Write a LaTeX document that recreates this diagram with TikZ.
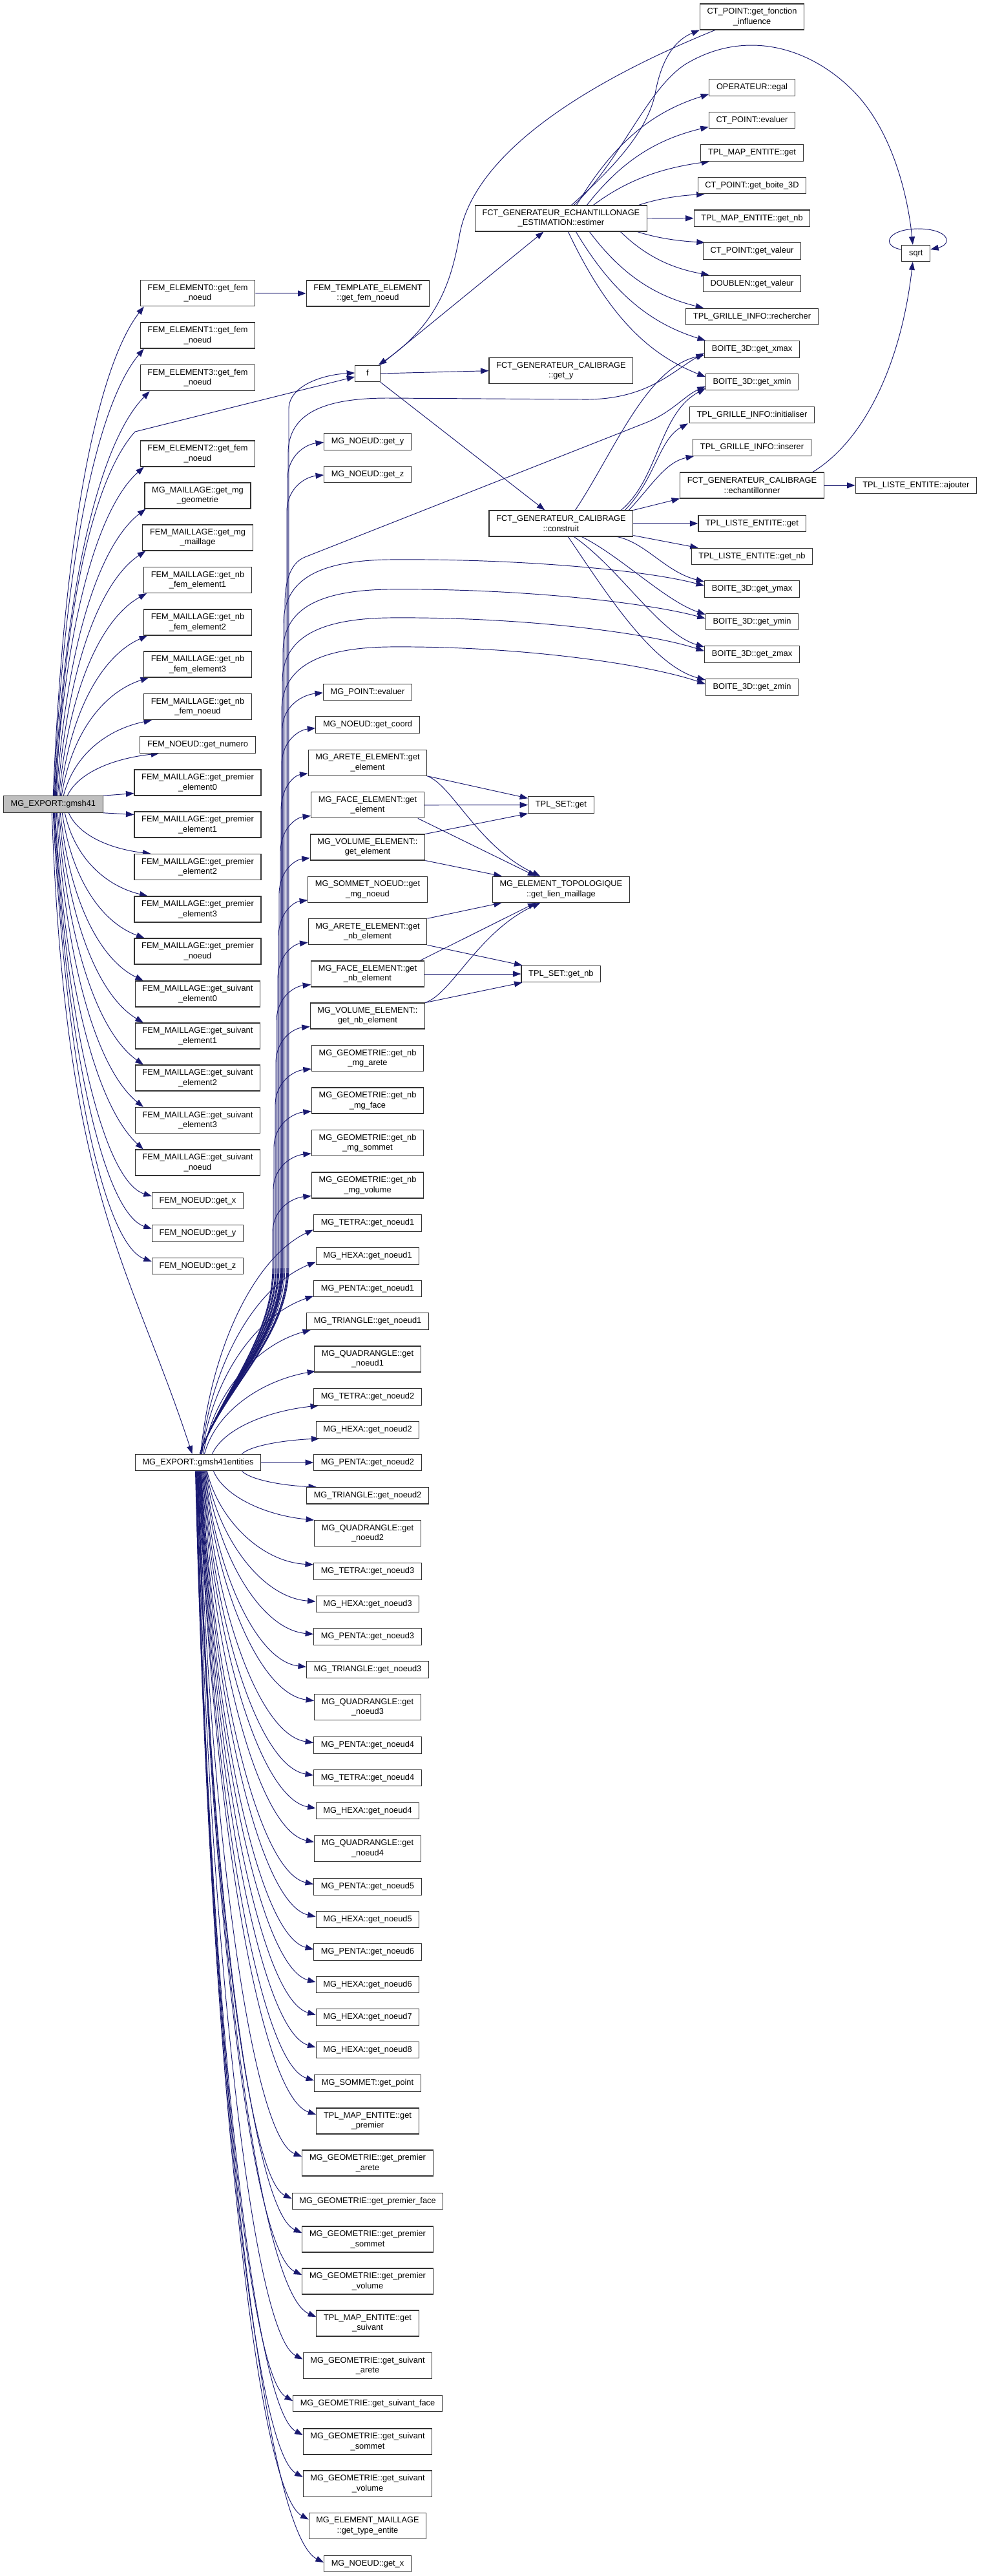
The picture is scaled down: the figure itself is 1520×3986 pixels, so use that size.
\documentclass[tikz,border=0pt]{standalone}
\usepackage{fontspec}
\setmainfont{Liberation Sans}
\usetikzlibrary{arrows.meta,calc}
\definecolor{navyc}{RGB}{25,25,112}
\pgfdeclarelayer{bg}
\pgfsetlayers{bg,main}
\newcommand\fs{\fontsize{12.8}{15.4}\selectfont}
\newcommand\mycub[6]{\draw[edge] let \p1=(#1), \p2=(#2) in (\p1) .. controls ({\x1+#3*(\x2-\x1)},{\y1+#4*(\y2-\y1)}) and ({\x2-#5*(\x2-\x1)},{\y2-#6*(\y2-\y1)}) .. (\p2);}
\newcommand\mybup[2]{\draw[edge] let \p2=(#1) in ([xshift=3pt]ent.north) .. controls (345pt,-2150pt) and (#2pt,-2070pt) .. (#2pt,-1960pt) -- (#2pt,{\y2-55pt}) .. controls ({#2pt+1pt},{\y2-20pt}) and ({\x2-0.5*(\x2-#2pt)},{\y2-3pt}) .. (\p2);}
\tikzset{
 box/.style={draw=black!80, line width=1.1pt, fill=white, font=\fs, inner xsep=11.2pt, inner ysep=0pt, align=center},
 one/.style={box, text height=9.3pt, text depth=2.7pt, minimum height=25.5pt},
 two/.style={box, minimum height=40pt},
 edge/.style={draw=navyc, line width=0.95pt, -{Triangle[length=12.5pt,width=9pt]}},
}
\begin{document}
\begin{tikzpicture}[x=1pt,y=1pt]
\useasboundingbox (0,0) rectangle (1520,-3986);
% ---------- column 0
\node[one, fill=black!25] (g41) at (82.3,-1244.5) {MG\_EXPORT::gmsh41};
% ---------- column 1
\node[two] (fe0) at (306,-453.8) {FEM\_ELEMENT0::get\_fem\\\_noeud};
\node[two] (fe1) at (306,-519) {FEM\_ELEMENT1::get\_fem\\\_noeud};
\node[two] (fe3) at (306,-584.8) {FEM\_ELEMENT3::get\_fem\\\_noeud};
\node[two] (fe2) at (306,-702) {FEM\_ELEMENT2::get\_fem\\\_noeud};
\node[two] (mgg) at (306,-767) {MG\_MAILLAGE::get\_mg\\\_geometrie};
\node[two] (mgm) at (306,-832) {FEM\_MAILLAGE::get\_mg\\\_maillage};
\node[two] (nbe1) at (306,-897.5) {FEM\_MAILLAGE::get\_nb\\\_fem\_element1};
\node[two] (nbe2) at (306,-963) {FEM\_MAILLAGE::get\_nb\\\_fem\_element2};
\node[two] (nbe3) at (306,-1028) {FEM\_MAILLAGE::get\_nb\\\_fem\_element3};
\node[two] (nbn) at (306,-1093.8) {FEM\_MAILLAGE::get\_nb\\\_fem\_noeud};
\node[one] (num) at (306,-1152.5) {FEM\_NOEUD::get\_numero};
\node[two] (pe0) at (306,-1211) {FEM\_MAILLAGE::get\_premier\\\_element0};
\node[two] (pe1) at (306,-1276) {FEM\_MAILLAGE::get\_premier\\\_element1};
\node[two] (pe2) at (306,-1341.5) {FEM\_MAILLAGE::get\_premier\\\_element2};
\node[two] (pe3) at (306,-1407) {FEM\_MAILLAGE::get\_premier\\\_element3};
\node[two] (pn) at (306,-1472) {FEM\_MAILLAGE::get\_premier\\\_noeud};
\node[two] (se0) at (306,-1538) {FEM\_MAILLAGE::get\_suivant\\\_element0};
\node[two] (se1) at (306,-1603) {FEM\_MAILLAGE::get\_suivant\\\_element1};
\node[two] (se2) at (306,-1668) {FEM\_MAILLAGE::get\_suivant\\\_element2};
\node[two] (se3) at (306,-1733.5) {FEM\_MAILLAGE::get\_suivant\\\_element3};
\node[two] (sn) at (306,-1799) {FEM\_MAILLAGE::get\_suivant\\\_noeud};
\node[one] (nx) at (306,-1858) {FEM\_NOEUD::get\_x};
\node[one] (ny) at (306,-1908.6) {FEM\_NOEUD::get\_y};
\node[one] (nz) at (306,-1959) {FEM\_NOEUD::get\_z};
\node[one] (ent) at (306.5,-2263) {MG\_EXPORT::gmsh41entities};
% ---------- column 2
\node[two] (fte) at (569.5,-454) {FEM\_TEMPLATE\_ELEMENT\\::get\_fem\_noeud};
\node[one, minimum width=38.5pt] (f) at (569,-578) {f};
\node[one] (gy) at (569,-683.5) {MG\_NOEUD::get\_y};
\node[one] (gz) at (569,-734) {MG\_NOEUD::get\_z};
\node[one] (pev) at (569,-1071) {MG\_POINT::evaluer};
\node[one] (gco) at (569,-1121.6) {MG\_NOEUD::get\_coord};
\node[two] (aee) at (569,-1180.3) {MG\_ARETE\_ELEMENT::get\\\_element};
\node[two] (fee) at (569,-1245.8) {MG\_FACE\_ELEMENT::get\\\_element};
\node[two] (vee) at (569,-1311) {MG\_VOLUME\_ELEMENT::\\get\_element};
\node[two] (snm) at (569,-1376.3) {MG\_SOMMET\_NOEUD::get\\\_mg\_noeud};
\node[two] (aen) at (569,-1441.8) {MG\_ARETE\_ELEMENT::get\\\_nb\_element};
\node[two] (fen) at (569,-1507) {MG\_FACE\_ELEMENT::get\\\_nb\_element};
\node[two] (ven) at (569,-1572) {MG\_VOLUME\_ELEMENT::\\get\_nb\_element};
\node[two] (gna) at (569,-1637.5) {MG\_GEOMETRIE::get\_nb\\\_mg\_arete};
\node[two] (gnf) at (569,-1703) {MG\_GEOMETRIE::get\_nb\\\_mg\_face};
\node[two] (gns) at (569,-1768.4) {MG\_GEOMETRIE::get\_nb\\\_mg\_sommet};
\node[two] (gnv) at (569,-1834) {MG\_GEOMETRIE::get\_nb\\\_mg\_volume};
\node[one] (t1) at (569,-1892.3) {MG\_TETRA::get\_noeud1};
\node[one] (h1) at (569,-1943.4) {MG\_HEXA::get\_noeud1};
\node[one] (p1) at (569,-1994) {MG\_PENTA::get\_noeud1};
\node[one] (tr1) at (569,-2044.5) {MG\_TRIANGLE::get\_noeud1};
\node[two] (q1) at (569,-2103) {MG\_QUADRANGLE::get\\\_noeud1};
\node[one] (t2) at (569,-2161.6) {MG\_TETRA::get\_noeud2};
\node[one] (h2) at (569,-2212.6) {MG\_HEXA::get\_noeud2};
\node[one] (p2) at (569,-2263) {MG\_PENTA::get\_noeud2};
\node[one] (tr2) at (569,-2314.2) {MG\_TRIANGLE::get\_noeud2};
\node[two] (q2) at (569,-2372.6) {MG\_QUADRANGLE::get\\\_noeud2};
\node[one] (t3) at (569,-2431.3) {MG\_TETRA::get\_noeud3};
\node[one] (h3) at (569,-2482) {MG\_HEXA::get\_noeud3};
\node[one] (p3) at (569,-2532.6) {MG\_PENTA::get\_noeud3};
\node[one] (tr3) at (569,-2583.3) {MG\_TRIANGLE::get\_noeud3};
\node[two] (q3) at (569,-2641.6) {MG\_QUADRANGLE::get\\\_noeud3};
\node[one] (p4) at (569,-2700.6) {MG\_PENTA::get\_noeud4};
\node[one] (t4) at (569,-2751) {MG\_TETRA::get\_noeud4};
\node[one] (h4) at (569,-2802) {MG\_HEXA::get\_noeud4};
\node[two] (q4) at (569,-2860.2) {MG\_QUADRANGLE::get\\\_noeud4};
\node[one] (p5) at (569,-2919.5) {MG\_PENTA::get\_noeud5};
\node[one] (h5) at (569,-2969.8) {MG\_HEXA::get\_noeud5};
\node[one] (p6) at (569,-3020.3) {MG\_PENTA::get\_noeud6};
\node[one] (h6) at (569,-3071) {MG\_HEXA::get\_noeud6};
\node[one] (h7) at (569,-3121.6) {MG\_HEXA::get\_noeud7};
\node[one] (h8) at (569,-3172) {MG\_HEXA::get\_noeud8};
\node[one] (spt) at (569,-3223.3) {MG\_SOMMET::get\_point};
\node[two] (mpr) at (569,-3282) {TPL\_MAP\_ENTITE::get\\\_premier};
\node[two] (gpa) at (569,-3347) {MG\_GEOMETRIE::get\_premier\\\_arete};
\node[one] (gpf) at (569,-3406) {MG\_GEOMETRIE::get\_premier\_face};
\node[two] (gps) at (569,-3465) {MG\_GEOMETRIE::get\_premier\\\_sommet};
\node[two] (gpv) at (569,-3530) {MG\_GEOMETRIE::get\_premier\\\_volume};
\node[two] (msu) at (569,-3595) {TPL\_MAP\_ENTITE::get\\\_suivant};
\node[two] (gsa) at (569,-3660.5) {MG\_GEOMETRIE::get\_suivant\\\_arete};
\node[one] (gsf) at (569,-3719) {MG\_GEOMETRIE::get\_suivant\_face};
\node[two] (gss) at (569,-3778) {MG\_GEOMETRIE::get\_suivant\\\_sommet};
\node[two] (gsv) at (569,-3843) {MG\_GEOMETRIE::get\_suivant\\\_volume};
\node[two] (gte) at (569,-3908.5) {MG\_ELEMENT\_MAILLAGE\\::get\_type\_entite};
\node[one] (gx) at (569,-3967) {MG\_NOEUD::get\_x};
% ---------- column 3
\node[two] (est) at (868.4,-338) {FCT\_GENERATEUR\_ECHANTILLONAGE\\\_ESTIMATION::estimer};
\node[two] (cgy) at (868.4,-573.7) {FCT\_GENERATEUR\_CALIBRAGE\\::get\_y};
\node[two] (con) at (868.4,-810) {FCT\_GENERATEUR\_CALIBRAGE\\::construit};
\node[one] (tsg) at (868.4,-1245.5) {TPL\_SET::get};
\node[two] (elm) at (868.4,-1376.3) {MG\_ELEMENT\_TOPOLOGIQUE\\::get\_lien\_maillage};
\node[one] (tsn) at (868.4,-1507) {TPL\_SET::get\_nb};
% ---------- column 4
\node[two] (cfi) at (1164,-26) {CT\_POINT::get\_fonction\\\_influence};
\node[one] (ope) at (1164,-135.4) {OPERATEUR::egal};
\node[one] (cev) at (1164,-186) {CT\_POINT::evaluer};
\node[one] (tmg) at (1164,-236.5) {TPL\_MAP\_ENTITE::get};
\node[one] (cgb) at (1164,-287) {CT\_POINT::get\_boite\_3D};
\node[one] (tmn) at (1164,-337.7) {TPL\_MAP\_ENTITE::get\_nb};
\node[one] (cgv) at (1164,-388.6) {CT\_POINT::get\_valeur};
\node[one] (dgv) at (1164,-439) {DOUBLEN::get\_valeur};
\node[one] (tgr) at (1164,-490) {TPL\_GRILLE\_INFO::rechercher};
\node[one] (bxM) at (1164,-540.3) {BOITE\_3D::get\_xmax};
\node[one] (bxm) at (1164,-591) {BOITE\_3D::get\_xmin};
\node[one] (tgi) at (1164,-642) {TPL\_GRILLE\_INFO::initialiser};
\node[one] (tgs) at (1164,-692.5) {TPL\_GRILLE\_INFO::inserer};
\node[two] (ech) at (1164,-751) {FCT\_GENERATEUR\_CALIBRAGE\\::echantillonner};
\node[one] (tlg) at (1164,-810) {TPL\_LISTE\_ENTITE::get};
\node[one] (tln) at (1164,-861) {TPL\_LISTE\_ENTITE::get\_nb};
\node[one] (byM) at (1164,-911.3) {BOITE\_3D::get\_ymax};
\node[one] (bym) at (1164,-962) {BOITE\_3D::get\_ymin};
\node[one] (bzM) at (1164,-1012.4) {BOITE\_3D::get\_zmax};
\node[one] (bzm) at (1164,-1063.4) {BOITE\_3D::get\_zmin};
% ---------- column 5
\node[one] (sqrt) at (1417.8,-392) {sqrt};
\node[one] (tla) at (1417.8,-751) {TPL\_LISTE\_ENTITE::ajouter};

\begin{pgfonlayer}{bg}
\fill[white] (0,0) rectangle (1520,-3986);
% ---- gmsh41 fan up
\mycub{[xshift=0pt]g41.north}{[xshift=6pt]fe0.south west}{0.12}{0.55}{0.5}{0.12}
\mycub{[xshift=1pt]g41.north}{[xshift=6pt]fe1.south west}{0.12}{0.55}{0.5}{0.12}
\mycub{[xshift=2pt]g41.north}{[xshift=15pt]fe3.south west}{0.12}{0.55}{0.5}{0.12}
\mycub{[xshift=3pt]g41.north}{[xshift=6pt]fe2.south west}{0.12}{0.55}{0.5}{0.12}
\mycub{[xshift=5pt]g41.north}{[xshift=2pt]mgg.south west}{0.12}{0.55}{0.5}{0.12}
\mycub{[xshift=7pt]g41.north}{[xshift=5pt]mgm.south west}{0.12}{0.55}{0.5}{0.12}
\mycub{[xshift=9pt]g41.north}{[xshift=5pt]nbe1.south west}{0.12}{0.55}{0.5}{0.12}
\mycub{[xshift=11pt]g41.north}{[xshift=6pt]nbe2.south west}{0.12}{0.55}{0.5}{0.12}
\mycub{[xshift=13pt]g41.north}{[xshift=8pt]nbe3.south west}{0.12}{0.55}{0.5}{0.12}
\mycub{[xshift=16pt]g41.north}{[xshift=13pt]nbn.south west}{0.12}{0.55}{0.5}{0.12}
\mycub{[xshift=22pt]g41.north}{[xshift=30pt]num.south west}{0.12}{0.55}{0.5}{0.12}
\draw[edge] ([xshift=4pt]g41.north) .. controls (101,-922) and (148,-736) .. (209,-668) -- ([yshift=-5pt]f.west);
\draw[edge] (g41.north east) -- ([yshift=4pt]pe0.south west);
\draw[edge] (g41.south east) -- ([yshift=-5pt]pe1.north west);
% ---- gmsh41 fan down
\mycub{[xshift=24pt]g41.south}{[xshift=26pt]pe2.north west}{0.12}{0.55}{0.5}{0.12}
\mycub{[xshift=18pt]g41.south}{[xshift=21pt]pe3.north west}{0.12}{0.55}{0.5}{0.12}
\mycub{[xshift=14pt]g41.south}{[xshift=16pt]pn.north west}{0.12}{0.55}{0.5}{0.12}
\mycub{[xshift=11pt]g41.south}{[xshift=13pt]se0.north west}{0.12}{0.55}{0.5}{0.12}
\mycub{[xshift=9pt]g41.south}{[xshift=13pt]se1.north west}{0.12}{0.55}{0.5}{0.12}
\mycub{[xshift=7pt]g41.south}{[xshift=13pt]se2.north west}{0.12}{0.55}{0.5}{0.12}
\mycub{[xshift=5pt]g41.south}{[xshift=13pt]se3.north west}{0.12}{0.55}{0.5}{0.12}
\mycub{[xshift=3pt]g41.south}{[xshift=13pt]sn.north west}{0.12}{0.55}{0.5}{0.12}
\mycub{[xshift=2pt]g41.south}{[yshift=7pt]nx.west}{0.12}{0.55}{0.5}{0.04}
\mycub{[xshift=1pt]g41.south}{[yshift=7pt]ny.west}{0.12}{0.55}{0.5}{0.04}
\mycub{[xshift=0pt]g41.south}{[yshift=7pt]nz.west}{0.12}{0.55}{0.5}{0.04}
\mycub{[xshift=-2pt]g41.south}{[xshift=-9pt]ent.north}{0.1}{0.6}{0.45}{0.3}
% ---- column 1 -> column 2
\draw[edge] (fe0.east) -- (fte.west);
% ---- gmsh41entities bundle up
\mybup{[yshift=1pt]f.west}{447}
\mybup{[yshift=-1pt]gy.west}{445}
\mybup{[yshift=-1pt]gz.west}{444}
\mybup{[yshift=-1pt]pev.west}{437}
\mybup{[yshift=-5pt]gco.west}{436}
\mybup{[yshift=4pt]aee.south west}{435}
\mybup{[yshift=4pt]fee.south west}{434}
\mybup{[yshift=4pt]vee.south west}{432}
\mybup{[yshift=4pt]snm.south west}{431}
\mybup{[yshift=4pt]aen.south west}{430}
\mybup{[yshift=4pt]fen.south west}{428}
\mybup{[yshift=4pt]ven.south west}{427}
\mybup{[yshift=4pt]gna.south west}{426}
\mybup{[yshift=4pt]gnf.south west}{424}
\mybup{[yshift=4pt]gns.south west}{423}
\mybup{[yshift=4pt]gnv.south west}{422}
% bounding box accessors
\draw[edge] ([xshift=3pt]ent.north) .. controls (345,-2150) and (446,-2070) .. (446,-1960) -- (446,-700) .. controls (447,-640) and (500,-616) .. (600,-616) -- (900,-618) .. controls (1000,-620) and (1040,-575) .. ([yshift=-6pt]bxM.west);
\draw[edge] ([xshift=3pt]ent.north) .. controls (345,-2150) and (441,-2070) .. (441,-1960) -- (441,-935) .. controls (441,-905) and (447,-872) .. (472,-862) -- (1000,-654) .. controls (1040,-638) and (1060,-612) .. ([yshift=-7pt]bxm.west);
\draw[edge] ([xshift=3pt]ent.north) .. controls (345,-2150) and (439,-2070) .. (439,-1960) -- (439,-965) .. controls (439,-905) and (480,-868) .. (600,-866) .. controls (800,-864) and (1000,-882) .. ([yshift=5pt]byM.west);
\draw[edge] ([xshift=3pt]ent.north) .. controls (345,-2150) and (438,-2070) .. (438,-1960) -- (438,-1010) .. controls (438,-950) and (480,-914) .. (600,-912) .. controls (800,-910) and (1000,-932) .. ([yshift=5pt]bym.west);
\draw[edge] ([xshift=3pt]ent.north) .. controls (345,-2150) and (437,-2070) .. (437,-1960) -- (437,-1055) .. controls (437,-995) and (480,-958) .. (600,-956) .. controls (800,-954) and (1000,-978) .. ([yshift=5pt]bzM.west);
\draw[edge] ([xshift=3pt]ent.north) .. controls (345,-2150) and (436,-2070) .. (436,-1960) -- (436,-1100) .. controls (436,-1040) and (480,-1003) .. (600,-1001) .. controls (800,-999) and (1000,-1027) .. ([yshift=5pt]bzm.west);
% ---- gmsh41entities near up
\mycub{[xshift=4pt]ent.north}{[yshift=3pt]t1.south west}{0.1}{0.5}{0.5}{0.12}
\mycub{[xshift=5pt]ent.north}{[yshift=4pt]h1.south west}{0.1}{0.5}{0.5}{0.12}
\mycub{[xshift=6pt]ent.north}{[yshift=2pt]p1.south west}{0.1}{0.5}{0.5}{0.12}
\mycub{[xshift=8pt]ent.north}{[xshift=7pt]tr1.south west}{0.1}{0.5}{0.5}{0.12}
\mycub{[xshift=10pt]ent.north}{[xshift=2pt,yshift=2pt]q1.south west}{0.1}{0.5}{0.5}{0.12}
\mycub{[xshift=22pt]ent.north}{[xshift=8pt]t2.south west}{0.1}{0.5}{0.5}{0.12}
\mycub{[xshift=68pt]ent.north}{[xshift=6pt]h2.south west}{0.1}{0.5}{0.5}{0.12}
\draw[edge] (ent.east) -- (p2.west);
% ---- gmsh41entities down
\mycub{[xshift=68pt]ent.south}{[xshift=16pt]tr2.north west}{0.1}{0.5}{0.5}{0.1}
\mycub{[xshift=24pt]ent.south}{q2.north west}{0.1}{0.5}{0.5}{0.1}
\mycub{[xshift=14pt]ent.south}{[yshift=-3pt]t3.north west}{0.1}{0.5}{0.5}{0.03}
\mycub{[xshift=13pt]ent.south}{[yshift=4pt]h3.west}{0.1}{0.5}{0.5}{0.03}
\mycub{[xshift=12pt]ent.south}{[yshift=4pt]p3.west}{0.1}{0.5}{0.5}{0.03}
\mycub{[xshift=11pt]ent.south}{[yshift=4pt]tr3.west}{0.1}{0.5}{0.5}{0.03}
\mycub{[xshift=10pt]ent.south}{[yshift=10pt]q3.west}{0.1}{0.5}{0.5}{0.03}
\mycub{[xshift=9pt]ent.south}{[yshift=4pt]p4.west}{0.1}{0.5}{0.5}{0.03}
\mycub{[xshift=8pt]ent.south}{[yshift=4pt]t4.west}{0.1}{0.5}{0.5}{0.03}
\mycub{[xshift=7pt]ent.south}{[yshift=4pt]h4.west}{0.1}{0.5}{0.5}{0.03}
\mycub{[xshift=6pt]ent.south}{[yshift=10pt]q4.west}{0.1}{0.5}{0.5}{0.03}
\mycub{[xshift=5pt]ent.south}{[yshift=4pt]p5.west}{0.1}{0.5}{0.5}{0.03}
\mycub{[xshift=4.5pt]ent.south}{[yshift=4pt]h5.west}{0.1}{0.5}{0.5}{0.03}
\mycub{[xshift=4pt]ent.south}{[yshift=4pt]p6.west}{0.1}{0.5}{0.5}{0.03}
\mycub{[xshift=3.5pt]ent.south}{[yshift=4pt]h6.west}{0.1}{0.5}{0.5}{0.03}
\mycub{[xshift=3pt]ent.south}{[yshift=4pt]h7.west}{0.1}{0.5}{0.5}{0.03}
\mycub{[xshift=2.5pt]ent.south}{[yshift=4pt]h8.west}{0.1}{0.5}{0.5}{0.03}
\mycub{[xshift=2pt]ent.south}{[yshift=4pt]spt.west}{0.1}{0.5}{0.5}{0.03}
\mycub{[xshift=1.5pt]ent.south}{[yshift=10pt]mpr.west}{0.1}{0.5}{0.5}{0.03}
\mycub{[xshift=1pt]ent.south}{[yshift=10pt]gpa.west}{0.1}{0.5}{0.5}{0.03}
\mycub{[xshift=0.5pt]ent.south}{[yshift=4pt]gpf.west}{0.1}{0.5}{0.5}{0.03}
\mycub{[xshift=0pt]ent.south}{[yshift=10pt]gps.west}{0.1}{0.5}{0.5}{0.03}
\mycub{[xshift=-0.5pt]ent.south}{[yshift=10pt]gpv.west}{0.1}{0.5}{0.5}{0.03}
\mycub{[xshift=-1pt]ent.south}{[yshift=10pt]msu.west}{0.1}{0.5}{0.5}{0.03}
\mycub{[xshift=-1.5pt]ent.south}{[yshift=10pt]gsa.west}{0.1}{0.5}{0.5}{0.03}
\mycub{[xshift=-2pt]ent.south}{[yshift=4pt]gsf.west}{0.1}{0.5}{0.5}{0.03}
\mycub{[xshift=-2.5pt]ent.south}{[yshift=10pt]gss.west}{0.1}{0.5}{0.5}{0.03}
\mycub{[xshift=-3pt]ent.south}{[yshift=10pt]gsv.west}{0.1}{0.5}{0.5}{0.03}
\mycub{[xshift=-3.5pt]ent.south}{[yshift=10pt]gte.west}{0.1}{0.5}{0.5}{0.03}
\mycub{[xshift=-4pt]ent.south}{[yshift=2pt]gx.west}{0.1}{0.5}{0.5}{0.03}
% ---- f
\draw[edge] (f.north east) -- ([xshift=-27pt]est.south);
\draw[edge] (f.east) -- (cgy.west);
\draw[edge] (f.south east) -- ([xshift=-25pt]con.north);
\draw[edge] ([xshift=24pt]cfi.south west) .. controls (950,-110) and (740,-220) .. (712,-360) .. controls (700,-430) and (680,-500) .. ([xshift=-3pt]f.north east);
% ---- estimer
\draw[edge] ([xshift=16pt]est.north) .. controls (950,-260) and (1005,-200) .. (1015,-140) .. controls (1025,-90) and (1045,-62) .. (cfi.south west);
\draw[edge] ([xshift=20pt]est.north) .. controls (960,-250) and (1000,-140) .. (1060,-100) .. controls (1150,-45) and (1250,-70) .. (1320,-140) .. controls (1380,-200) and (1405,-300) .. ([xshift=-5pt]sqrt.north);
\mycub{[xshift=24pt]est.north}{[yshift=3pt]ope.south west}{0.3}{0.6}{0.4}{0.15}
\mycub{[xshift=40pt]est.north}{[yshift=3pt]cev.south west}{0.3}{0.6}{0.4}{0.15}
\mycub{[xshift=50pt]est.north}{[xshift=14pt]tmg.south west}{0.3}{0.6}{0.4}{0.15}
\mycub{[xshift=120pt]est.north}{[xshift=11pt]cgb.south west}{0.3}{0.6}{0.4}{0.15}
\draw[edge] (est.east) -- (tmn.west);
\mycub{[xshift=118pt]est.south}{[xshift=3pt]cgv.north west}{0.3}{0.6}{0.4}{0.15}
\mycub{[xshift=92pt]est.south}{[xshift=10pt]dgv.north west}{0.3}{0.6}{0.4}{0.15}
\mycub{[xshift=44pt]est.south}{[xshift=28pt]tgr.north west}{0.3}{0.6}{0.4}{0.15}
\mycub{[xshift=23pt]est.south}{[xshift=2pt]bxM.north west}{0.3}{0.6}{0.4}{0.15}
\mycub{[xshift=11pt]est.south}{[yshift=8pt]bxm.west}{0.3}{0.6}{0.4}{0.15}
% ---- construit
\draw[edge] ([xshift=22pt]con.north) .. controls (950,-700) and (1000,-570) .. ([yshift=-9pt]bxM.west);
\draw[edge] ([xshift=-19pt]con.north east) .. controls (1020,-740) and (1020,-640) .. ([yshift=-10pt]bxm.west);
\draw[edge] ([xshift=-13pt]con.north east) .. controls (1015,-740) and (1020,-680) .. ([xshift=-2pt]tgi.south west);
\draw[edge] ([xshift=-7pt]con.north east) .. controls (1010,-750) and (1030,-715) .. ([xshift=2pt]tgs.south west);
\draw[edge] (con.north east) -- (ech.south west);
\draw[edge] (con.east) -- (tlg.west);
\draw[edge] ([yshift=2pt]con.south east) -- ([xshift=11pt]tln.north west);
\draw[edge] ([xshift=87pt]con.south) .. controls (1000,-840) and (1030,-885) .. ([yshift=-2pt]byM.north west);
\draw[edge] ([xshift=32pt]con.south) .. controls (960,-860) and (1030,-930) .. ([yshift=-2pt]bym.north west);
\draw[edge] ([xshift=20pt]con.south) .. controls (960,-880) and (1020,-980) .. ([yshift=-2pt]bzM.north west);
\draw[edge] ([xshift=11pt]con.south) .. controls (940,-920) and (1010,-1030) .. ([yshift=-2pt]bzm.north west);
% ---- echantillonner
\draw[edge] (ech.east) -- (tla.west);
\draw[edge] ([xshift=-18pt]ech.north east) .. controls (1340,-680) and (1395,-560) .. ([xshift=-5pt]sqrt.south);
\draw[edge] ([yshift=6pt]sqrt.west) .. controls (1365,-382) and (1370,-355) .. (1420,-354) .. controls (1470,-354) and (1475,-378) .. ([yshift=6pt]sqrt.east);
% ---- element accessors
\draw[edge] (aee.south east) -- ([yshift=-3pt]tsg.north west);
\draw[edge] (aee.south east) .. controls (700,-1215) and (740,-1310) .. ([xshift=-32pt]elm.north);
\draw[edge] (fee.east) -- (tsg.west);
\draw[edge] ([xshift=-10pt]fee.south east) -- ([xshift=-39pt]elm.north);
\draw[edge] (vee.north east) -- (tsg.south west);
\draw[edge] (vee.south east) -- ([xshift=15pt]elm.north west);
\draw[edge] (aen.north east) -- ([xshift=15pt]elm.south west);
\draw[edge] (aen.south east) -- ([xshift=2pt]tsn.north west);
\draw[edge] ([xshift=-7pt]fen.north east) -- ([xshift=-39pt]elm.south);
\draw[edge] (fen.east) -- (tsn.west);
\draw[edge] (ven.north east) .. controls (700,-1537) and (740,-1442) .. ([xshift=-32pt]elm.south);
\draw[edge] (ven.north east) -- ([xshift=2pt]tsn.south west);
\end{pgfonlayer}
\end{tikzpicture}
\end{document}
